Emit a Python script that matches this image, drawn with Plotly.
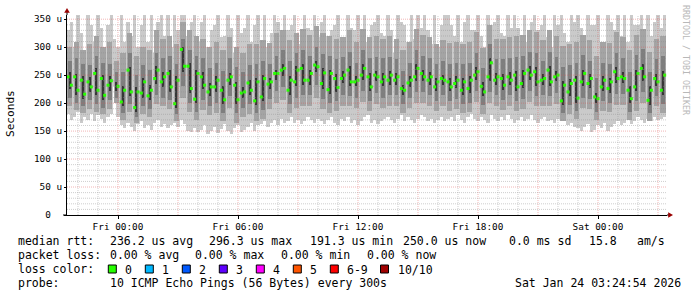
import plotly.graph_objects as go
import pandas as pd

# ---------------- data (values in microseconds) ----------------
# median RTT every 10 minutes, starting Thu 2026-01-22 21:30
median_rtt = [
    247, 232, 247, 223, 241, 216, 238, 229, 253, 223, 244, 214, 232, 240,
    None, 230,
    202, 223, 259, 220, 192, 220, 218, 238, 213, 223, 244, 259, 238, 247, 253, 229, 199, 241, 296, 266, 266, 226,
    207, 253, 247, 232, 220, 229, 229, 241, 223, 206, 241, 247, 232, 206, 218, 220, 236, 223, 204, 238, 211, 244,
    234, 238, 253, 253, 259, 262, 223, 241, 238, 259, 262, 241, 241, 253, 268, 265,
    235, 254, 224, 253, 244, 228, 244, 250, 259, 238, 238, 241, 250, 262, 247, 229, 250, 247, 238, 247, 241, 250,
    241, 247, 226, 223, 236, 241, 247, 262, 253, 247, 241, 247, 229, 238, 244, 241,
    238, 229, 235, 241, 223, 238, 226, 241, 250, 256, 230, 220, 247, 272, 241, 247, 244, 232, 247, 241, 250, 229,
    235, 253, 259, 250, 256, 238, 241, 244, 259, 238, 247, 250, 204, 232, 220, 235, 241,
    209, 238, 253, 235, 244, 211, 208, 229, 241, 226, 238, 256, 244, 247, 244, 223, 208, 229, 253, 262, 247, 205,
    223, 244, 238, 223, 250,
]

# outer smoke (fastest / slowest ping) every 10 minutes
smoke_hi = [
    330, 345, 300, 358, 325, 290, 358, 340, 310, 358, 335, 300, 340, 358,
    315, 300,
    358, 310, 345, 320, 358, 300, 340, 358, 310, 358, 290, 345, 358, 320, 358, 300, 358, 330, 358, 358, 320, 345,
    358, 310, 345, 358, 300, 330, 340, 358, 318, 320, 358, 335, 290, 358, 325, 335, 358, 310, 340, 358, 305, 358,
    300, 325, 358, 345, 320, 358, 330, 340, 358, 305, 300, 358, 335, 330, 358, 318,
    345, 358, 320, 330, 340, 358, 310, 300, 358, 335, 330, 358, 318, 358, 310, 340, 345, 358, 325, 320, 358, 330,
    290, 358, 345, 340, 310, 358, 315, 358, 335, 358, 330, 305, 358, 300, 340, 358,
    358, 340, 320, 358, 310, 345, 358, 330, 330, 358, 320, 300, 358, 340, 345, 358, 325, 320, 358, 335, 358, 335,
    310, 358, 310, 345, 358, 330, 340, 358, 318, 300, 358, 340, 358, 325, 310, 358, 345,
    358, 335, 320, 358, 340, 340, 358, 310, 300, 358, 345, 330, 358, 320, 358, 310, 358, 340, 340, 358, 330, 358,
    320, 345, 358, 335, 358,
]
smoke_lo = [
    180, 170, 175, 185, 165, 175, 170, 180, 168, 178, 172, 165, 175, 180,
    230, 175,
    160, 155, 165, 158, 150, 162, 168, 155, 160, 152, 165, 170, 158, 162, 155, 160, 165, 158, 170, 162, 150, 148,
    155, 148, 152, 160, 145, 150, 158, 147, 153, 162, 150, 145, 155, 160, 148, 152, 158, 165, 150, 160, 162, 168,
    158, 165, 170, 160, 172, 165, 168, 175, 165, 170, 162, 168, 175, 170, 165, 172,
    168, 162, 170, 175, 165, 160, 172, 168, 175, 165, 170, 160, 168, 175, 178, 165, 170, 162, 168, 172, 175, 170,
    165, 172, 178, 168, 175, 170, 165, 172, 178, 175, 168, 172, 165, 170, 175, 168,
    172, 175, 168, 178, 170, 165, 175, 180, 172, 168, 175, 170, 165, 178, 172, 168, 175, 170, 178, 172, 165, 170,
    175, 168, 172, 178, 170, 165, 172, 175, 168, 170, 165, 172, 168, 175, 160, 165, 158,
    155, 150, 158, 162, 148, 152, 160, 155, 165, 150, 158, 162, 168, 160, 165, 170, 162, 168, 175, 170, 165, 172,
    168, 175, 170, 172, 175,
]

# inner smoke bands every 20 minutes
band2_lo = [195, 188, 182, 190, 185, 180, 190, 200, 170, 185, 165, 180, 175, 198, 195, 190, 168, 210, 185, 170,
            188, 178, 183, 168, 192, 165, 175, 180, 168, 172, 190, 200, 205, 182, 192, 195, 195, 210, 190, 182,
            186, 195, 194, 192, 202, 186, 198, 192, 195, 195, 182, 192, 200, 200, 195, 186, 195, 186, 190, 182,
            184, 202, 180, 200, 195, 188, 195, 186, 190, 202, 194, 195, 194, 198, 168, 180, 172, 192, 190, 170,
            186, 184, 196, 196, 170, 186, 200, 168, 194, 182]
band2_hi = [300, 310, 295, 305, 320, 300, 310, 275, 290, 325, 285, 300, 295, 330, 315, 320, 305, 345, 330, 320,
            315, 300, 310, 295, 318, 300, 290, 305, 305, 312, 308, 325, 330, 312, 325, 332, 322, 338, 325, 320,
            315, 318, 330, 310, 332, 318, 320, 315, 320, 315, 295, 310, 332, 322, 318, 305, 312, 308, 310, 305,
            310, 328, 298, 340, 315, 315, 318, 320, 322, 330, 328, 312, 330, 320, 302, 305, 310, 322, 312, 285,
            310, 308, 328, 318, 295, 322, 332, 292, 315, 320]
band3_lo = [210, 200, 195, 205, 198, 192, 205, 210, 182, 198, 175, 195, 190, 215, 210, 205, 180, 230, 200, 185,
            205, 195, 200, 183, 212, 182, 192, 198, 182, 188, 208, 222, 228, 198, 210, 215, 215, 232, 208, 200,
            203, 215, 212, 210, 222, 204, 218, 210, 214, 214, 198, 210, 220, 220, 214, 204, 214, 204, 208, 198,
            200, 222, 196, 220, 214, 206, 214, 204, 208, 222, 212, 214, 212, 218, 182, 196, 186, 210, 208, 185,
            204, 200, 216, 216, 185, 204, 220, 182, 212, 198]
band3_hi = [275, 280, 270, 268, 285, 272, 270, 255, 255, 290, 250, 268, 260, 290, 280, 285, 270, 315, 295, 285,
            280, 262, 272, 258, 280, 265, 255, 268, 270, 275, 270, 285, 295, 275, 290, 295, 285, 300, 288, 285,
            278, 282, 292, 272, 295, 280, 282, 280, 282, 278, 258, 272, 295, 285, 280, 270, 275, 270, 272, 270,
            272, 290, 262, 305, 278, 278, 280, 282, 285, 292, 290, 276, 292, 282, 265, 268, 272, 286, 276, 245,
            272, 270, 290, 280, 256, 286, 296, 256, 278, 284]
band4_lo = [225, 215, 208, 220, 214, 205, 222, 222, 195, 212, 185, 210, 205, 235, 228, 220, 192, 255, 218, 200,
            225, 212, 220, 198, 232, 198, 210, 215, 196, 203, 225, 242, 248, 215, 230, 233, 233, 255, 226, 216,
            220, 236, 230, 230, 242, 221, 239, 230, 233, 233, 215, 228, 240, 240, 233, 221, 233, 221, 227, 215,
            218, 242, 212, 240, 233, 224, 233, 221, 227, 242, 230, 233, 230, 239, 196, 212, 201, 230, 227, 200,
            221, 218, 236, 236, 200, 221, 239, 197, 230, 215]
band4_hi = [255, 252, 248, 246, 262, 250, 248, 238, 230, 265, 228, 245, 232, 266, 255, 260, 248, 300, 272, 260,
            255, 236, 248, 230, 254, 238, 228, 242, 245, 250, 245, 260, 270, 248, 266, 270, 260, 275, 262, 260,
            252, 258, 266, 248, 270, 254, 258, 254, 258, 254, 233, 248, 270, 260, 255, 245, 250, 245, 248, 245,
            248, 264, 238, 280, 254, 252, 255, 258, 260, 266, 264, 252, 266, 258, 240, 243, 248, 260, 252, 218,
            248, 245, 264, 255, 230, 260, 270, 230, 252, 258]

y_ticks = [0, 50, 100, 150, 200, 250, 300, 350]
y_ticktext = ["0\u00a0\u00a0", "50 u", "100 u", "150 u", "200 u", "250 u", "300 u", "350 u"]
x_tickvals = ["2026-01-23 00:00", "2026-01-23 06:00", "2026-01-23 12:00", "2026-01-23 18:00", "2026-01-24 00:00"]
x_ticktext = ["Fri 00:00", "Fri 06:00", "Fri 12:00", "Fri 18:00", "Sat 00:00"]

loss_labels = ["0", "1", "2", "3", "4", "5", "6-9", "10/10"]
loss_colors = ["#26ff00", "#00b8ff", "#0059ff", "#5e00ff", "#ff00ff", "#ff5500", "#ff0000", "#a00000"]

# ---------------- layout geometry ----------------
W, H = 697, 297
L, R, T, B = 67, 30, 15, 82
PW, PH = W - L - R, H - T - B
BASE = H - B  # pixel row of y=0


def px(x):
    return (x - L) / PW


def py(y):
    return (BASE - y) / PH


MONO = "DejaVu Sans Mono"
MIN = 60 * 1000

t_fine = pd.date_range("2026-01-22 21:30", periods=len(median_rtt), freq="10min")
t_coarse = pd.date_range("2026-01-22 21:35", periods=len(band2_lo), freq="20min")

fig = go.Figure()


def add_band(t, lo, hi, width, color):
    fig.add_trace(go.Bar(
        x=t, base=lo, y=[h - l for l, h in zip(lo, hi)], width=width,
        marker=dict(color=color, line=dict(width=0)), hoverinfo="skip", showlegend=False,
    ))


add_band(t_fine, smoke_lo, smoke_hi, 10 * MIN, "#cacaca")
add_band(t_coarse, band2_lo, band2_hi, 16 * MIN, "#a4a4a4")
add_band(t_coarse, band3_lo, band3_hi, 11 * MIN, "#7e7e7e")
add_band(t_coarse, band4_lo, band4_hi, 6 * MIN, "#363636")

fig.add_trace(go.Scatter(
    x=t_fine, y=median_rtt, mode="markers",
    marker=dict(symbol="square", size=3, color=loss_colors[0], line=dict(width=0)),
    hoverinfo="skip", showlegend=False,
))

x0 = pd.Timestamp("2026-01-22 21:27")
x1 = pd.Timestamp("2026-01-24 03:27")
ymax = 357.5

RED = "rgba(225,80,80,0.42)"
GRAY = "rgba(140,140,140,0.42)"
shapes = []
# vertical grid: every hour, major (red) every 3 hours
h = pd.Timestamp("2026-01-22 22:00")
while h < x1:
    major = h.hour % 3 == 0
    shapes.append(dict(type="line", xref="x", yref="paper", x0=h, x1=h, y0=0, y1=1, layer="above",
                       line=dict(color=RED if major else GRAY, width=1, dash="1px,1px")))
    h += pd.Timedelta("1h")
# horizontal grid: every 10 u, major (red) every 50 u
for v in range(10, 351, 10):
    major = v % 50 == 0
    shapes.append(dict(type="line", xref="paper", yref="y", x0=0, x1=1, y0=v, y1=v, layer="above",
                       line=dict(color=RED if major else GRAY, width=1, dash="1px,1px")))

# axis extensions and arrows
shapes.append(dict(type="line", xref="paper", yref="paper", x0=0, x1=0, y0=1, y1=py(11),
                   line=dict(color="#000000", width=1), layer="above"))
shapes.append(dict(type="line", xref="paper", yref="paper", x0=px(63), x1=0, y0=0, y1=0,
                   line=dict(color="#000000", width=1), layer="above"))
shapes.append(dict(type="line", xref="paper", yref="paper", x0=1, x1=px(669), y0=0, y1=0,
                   line=dict(color="#000000", width=1), layer="above"))
shapes.append(dict(type="path", xref="paper", yref="paper",
                   path=f"M {px(64.2)} {py(12.8)} L {px(69.8)} {py(12.8)} L {px(67)} {py(8)} Z",
                   fillcolor="#990000", line=dict(width=0), layer="above"))
shapes.append(dict(type="path", xref="paper", yref="paper",
                   path=f"M {px(668.2)} {py(212.2)} L {px(668.2)} {py(217.8)} L {px(673)} {py(215)} Z",
                   fillcolor="#990000", line=dict(width=0), layer="above"))

# legend boxes
box_x = [108.3, 145.3, 182.3, 219.3, 256.3, 293.3, 330.3, 380.5]
annotations = []
for bx, lab, col in zip(box_x, loss_labels, loss_colors):
    shapes.append(dict(type="rect", xref="paper", yref="paper",
                       x0=px(bx), x1=px(bx + 8), y0=py(273), y1=py(265),
                       fillcolor=col, line=dict(color="#000000", width=1)))
    annotations.append(dict(text=lab, x=px(bx + 15), y=py(269.5), xref="paper", yref="paper",
                            xanchor="left", yanchor="middle", showarrow=False,
                            font=dict(family=MONO, size=11.5, color="#000000")))

legend_tokens = [
    ("median rtt:", 16, 241.3), ("236.2 us avg", 107.5, 241.3), ("296.3 us max", 206.5, 241.3),
    ("191.3 us min", 307.5, 241.3), ("250.0 us now", 400.7, 241.3), ("0.0 ms sd", 507, 241.3),
    ("15.8", 586.7, 241.3), ("am/s", 635, 241.3),
    ("packet loss:", 16, 255.3), ("0.00 % avg", 107.5, 255.3), ("0.00 % max", 193.3, 255.3),
    ("0.00 % min", 279, 255.3), ("0.00 % now", 365, 255.3),
    ("loss color:", 16, 269.3),
    ("probe:", 16, 283.3), ("10 ICMP Echo Pings (56 Bytes) every 300s", 107.5, 283.3),
    ("Sat Jan 24 03:24:54 2026", 513, 283.3),
]
for txt, tx, ty in legend_tokens:
    annotations.append(dict(text=txt, x=px(tx), y=py(ty), xref="paper", yref="paper",
                            xanchor="left", yanchor="middle", showarrow=False,
                            font=dict(family=MONO, size=11.5, color="#000000")))

annotations.append(dict(text="Seconds", x=px(10.5), y=py(113.5), xref="paper", yref="paper",
                        xanchor="center", yanchor="middle", textangle=-90, showarrow=False,
                        font=dict(family=MONO, size=11.1, color="#000000")))
annotations.append(dict(text="RRDTOOL / TOBI OETIKER", x=px(686), y=py(60), xref="paper", yref="paper",
                        xanchor="center", yanchor="middle", textangle=90, showarrow=False,
                        font=dict(family=MONO, size=8.3, color="#b8b8b8")))

fig.update_layout(
    width=W, height=H, margin=dict(l=L, r=R, t=T, b=B, pad=0),
    paper_bgcolor="#ffffff", plot_bgcolor="#ffffff",
    barmode="overlay", bargap=0, showlegend=False,
    shapes=shapes, annotations=annotations,
    xaxis=dict(type="date", range=[x0, x1], tickmode="array", tickvals=x_tickvals, ticktext=x_ticktext,
               showgrid=False, zeroline=False, showline=True, linecolor="#000000", linewidth=1,
               ticks="outside", ticklen=3, tickcolor="#000000",
               tickfont=dict(family=MONO, size=9.4, color="#000000")),
    yaxis=dict(range=[0, ymax], tickmode="array", tickvals=y_ticks, ticktext=y_ticktext,
               showgrid=False, zeroline=False, showline=True, linecolor="#000000", linewidth=1,
               ticks="outside", ticklen=2, tickcolor="#000000",
               tickfont=dict(family=MONO, size=9.4, color="#000000")),
)

fig.write_html("out.html")
